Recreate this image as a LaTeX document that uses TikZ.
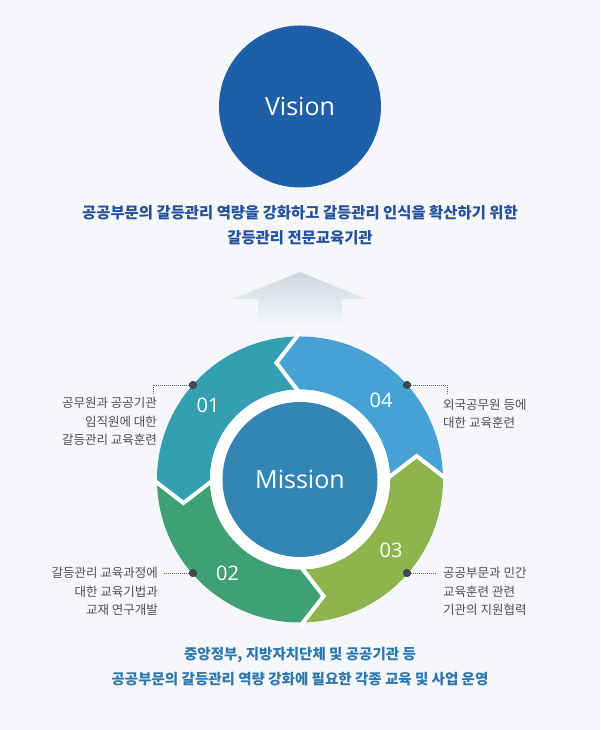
\documentclass[tikz,border=0pt]{standalone}
\usepackage{fontspec}
\setmainfont{Open Sans}
\newfontfamily\kr{Noto Sans CJK KR}
\usetikzlibrary{calc}
\definecolor{bg}{HTML}{F5F7FB}
\definecolor{visionc}{HTML}{1E5FAA}
\definecolor{missionc}{HTML}{3385B4}
\definecolor{topc}{HTML}{23519D}
\definecolor{botc}{HTML}{2C78AE}
\definecolor{segA}{HTML}{349FB1}
\definecolor{segB}{HTML}{3FA173}
\definecolor{segC}{HTML}{8DB44D}
\definecolor{segD}{HTML}{46A2D4}
\definecolor{labc}{HTML}{505050}
\definecolor{dotc}{HTML}{3D4A50}
\definecolor{arrowc}{HTML}{D0D6E0}
\tikzset{
  lab/.style={inner sep=0pt, text=labc, font=\kr\fontsize{12.5}{15}\selectfont},
  numlab/.style={inner sep=0pt, text=white, font=\fontsize{20}{24}\selectfont},
  dotnode/.style={circle, fill=dotc, inner sep=0pt, minimum size=8pt},
  leader/.style={draw=labc!90, line width=0.8pt, dash pattern=on 0.8pt off 1.2pt},
  chevron/.style={draw=white, line width=4pt, line join=miter},
}
\begin{document}
\begin{tikzpicture}[x=1pt,y=1pt]
\useasboundingbox (0,0) rectangle (600,730);
\fill[bg] (0,0) rectangle (600,730);

% Vision
\node[circle, fill=visionc, minimum size=162pt, inner sep=0pt, text=white, font=\fontsize{25}{30}\selectfont] (vision) at (300,623.5) {Vision};

% top text
\node[inner sep=0pt, text=topc, font=\kr\bfseries\fontsize{15.4}{18}\selectfont] (top1) at (300,517) {공공부문의 갈등관리 역량을 강화하고 갈등관리 인식을 확산하기 위한};
\node[inner sep=0pt, text=topc, font=\kr\bfseries\fontsize{15.4}{18}\selectfont] (top2) at (300,492) {갈등관리 전문교육기관};

% up arrow
\shade[top color=arrowc, bottom color=bg] (300,458) -- (366,431) -- (342,431) -- (342,404) -- (258,404) -- (258,431) -- (233,431) -- cycle;

% ring
\coordinate (C) at (300,250.5);
\begin{scope}[shift={(C)}]
\foreach \a/\c in {90/segA,180/segB,270/segC,0/segD}{
  \fill[\c] (\a:143) arc[start angle=\a, end angle=\a+90, radius=143]
    -- ({\a+101.4}:119) -- ({\a+90}:90)
    arc[start angle=\a+90, end angle=\a, radius=90]
    -- ({\a+11.4}:119) -- cycle;
}
\foreach \b in {0,90,180,270}{
  \draw[chevron] (\b:147) -- ({\b+11.4}:119) -- (\b:86);
}
\fill[white] (0,0) circle[radius=90];
\end{scope}
\node[circle, fill=missionc, minimum size=155pt, inner sep=0pt, text=white, font=\fontsize{25}{30}\selectfont] (mission) at (C) {Mission};

% numbers
\node[numlab] (n1) at (208,325) {01};
\node[numlab] (n4) at (381,329.5) {04};
\node[numlab] (n3) at (391,180) {03};
\node[numlab] (n2) at (227.5,156.5) {02};

% dots and leaders
\node[dotnode] (d1) at (193,345) {};
\node[dotnode] (d4) at (407,345) {};
\node[dotnode] (d2) at (193,157) {};
\node[dotnode] (d3) at (407,157) {};
\coordinate (k1a) at (153,345);
\coordinate (k1b) at (153,335);
\coordinate (k4a) at (447,345);
\coordinate (k4b) at (447,335);
\coordinate (k2) at (163,157);
\coordinate (k3) at (437,157);
\draw[leader] (d1.center) -- (k1a) -- (k1b);
\draw[leader] (d4.center) -- (k4a) -- (k4b);
\draw[leader] (d2.center) -- (k2);
\draw[leader] (d3.center) -- (k3);
\fill[dotc] (d1) circle[radius=4];
\fill[dotc] (d4) circle[radius=4];
\fill[dotc] (d2) circle[radius=4];
\fill[dotc] (d3) circle[radius=4];

% labels
\node[lab, anchor=east] (l1a) at (157,327) {공무원과 공공기관};
\node[lab, anchor=east] (l1b) at (157,308) {임직원에 대한};
\node[lab, anchor=east] (l1c) at (157,290) {갈등관리 교육훈련};

\node[lab, anchor=west] (l4a) at (443,325) {외국공무원 등에};
\node[lab, anchor=west] (l4b) at (443,307) {대한 교육훈련};

\node[lab, anchor=east] (l2a) at (158,157) {갈등관리 교육과정에};
\node[lab, anchor=east] (l2b) at (158,138) {대한 교육기법과};
\node[lab, anchor=east] (l2c) at (158,120) {교재 연구개발};

\node[lab, anchor=west] (l3a) at (443,157) {공공부문과 민간};
\node[lab, anchor=west] (l3b) at (443,138) {교육훈련 관련};
\node[lab, anchor=west] (l3c) at (443,120) {기관의 지원협력};

% bottom text
\node[inner sep=0pt, text=botc, font=\kr\bfseries\fontsize{14.5}{18}\selectfont] (bot1) at (300,75) {중앙정부, 지방자치단체 및 공공기관 등};
\node[inner sep=0pt, text=botc, font=\kr\bfseries\fontsize{14.5}{18}\selectfont] (bot2) at (300,51) {공공부문의 갈등관리 역량 강화에 필요한 각종 교육 및 사업 운영};
\end{tikzpicture}
\end{document}
